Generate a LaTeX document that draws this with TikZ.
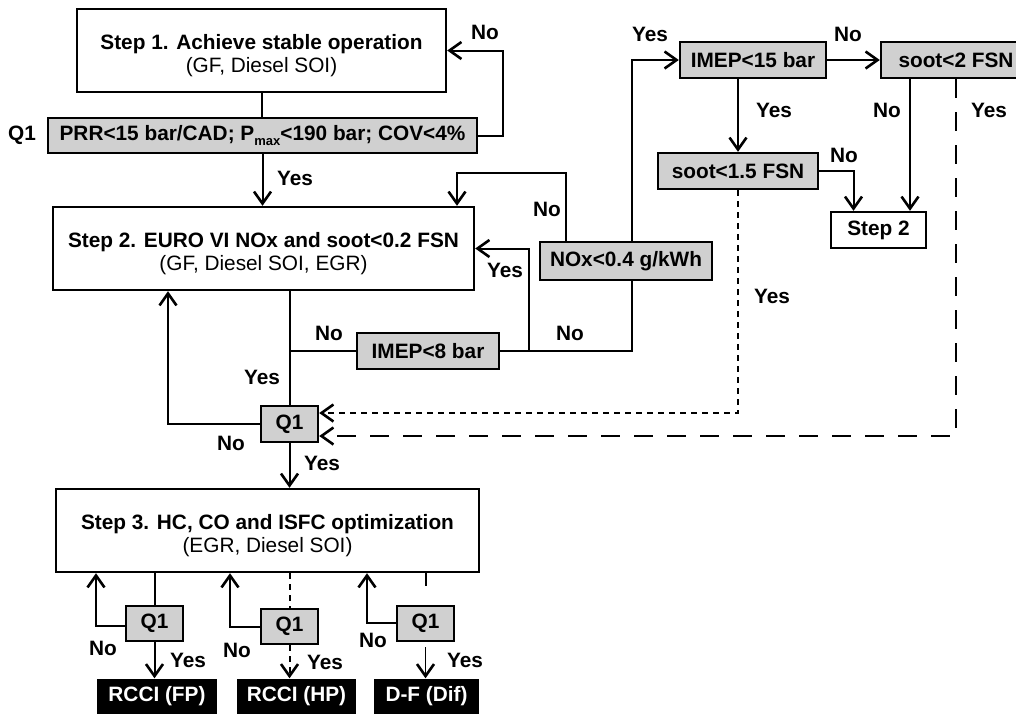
\documentclass[tikz,border=0pt]{standalone}
\usepackage{fontspec}
\setmainfont{Liberation Sans}
\usepackage{tikz}
\usetikzlibrary{arrows.meta, positioning}
\definecolor{qgray}{RGB}{208, 208, 208}
\newcommand{\toppad}{\rule{0pt}{25pt}}

\begin{document}
\begin{tikzpicture}[x=1pt, y=-1pt,
  every node/.style={font=\fontsize{20.8}{23}\selectfont\bfseries},
  stepbox/.style={draw, line width=2.4pt, align=center, inner sep=0pt},
  qbox/.style={draw, line width=2.4pt, fill=qgray, inner sep=0pt, minimum height=36pt},
  endbox/.style={fill=black, text=white, inner sep=0pt, minimum height=35pt},
  lbl/.style={inner sep=0pt},
  conn/.style={line width=2pt},
  arr/.style={line width=2pt, -{Straight Barb[length=12pt, width=17pt, line width=2.6pt]}},
  shortdash/.style={dash pattern=on 6pt off 5pt},
  longdash/.style={dash pattern=on 19pt off 14pt},
  sparse/.style={dash pattern=on 13pt off 30pt}]
  \useasboundingbox (0,0) rectangle (1016,713);

  % Step 1 and its check
  \node[stepbox, minimum width=369pt, minimum height=83pt] (step1) at (261.5, 50.5)
    {\toppad Step 1. Achieve stable operation\\\mdseries(GF, Diesel SOI)};
  \node[qbox, minimum width=429pt, minimum height=35pt] (q1top) at (262.5, 135.5)
    {PRR<15 bar/CAD; P\raisebox{-0.5ex}{\fontsize{13}{13}\selectfont max}<190 bar; COV<4\%};
  \node[lbl] (q1lbl) at (22, 135) {Q1};

  % Step 2 and the load checks
  \node[stepbox, minimum width=421pt, minimum height=83pt] (step2) at (263.5, 248.5)
    {\toppad Step 2. EURO VI NOx and soot<0.2 FSN\\\mdseries(GF, Diesel SOI, EGR)};
  \node[qbox, minimum width=142pt] (imep8) at (428, 351) {IMEP<8 bar};
  \node[qbox, minimum width=172pt, minimum height=38pt] (nox) at (626, 261) {NOx<0.4 g/kWh};
  \node[qbox, minimum width=146pt] (imep15) at (753, 60) {IMEP<15 bar};
  \node[qbox, minimum width=150pt] (soot2) at (956, 60) {soot<2 FSN};
  \node[qbox, minimum width=160pt] (soot15) at (738, 171) {soot<1.5 FSN};
  \node[stepbox, minimum width=95pt, minimum height=36pt] (step2b) at (878.5, 230) {Step 2};
  \node[qbox, minimum width=57pt] (q1mid) at (289.5, 424) {Q1};

  % Step 3 and the three modes
  \node[stepbox, minimum width=423pt, minimum height=83pt] (step3) at (267.5, 530.5)
    {\toppad Step 3. HC, CO and ISFC optimization\\\mdseries(EGR, Diesel SOI)};
  \node[qbox, minimum width=57pt, minimum height=35pt] (q1a) at (154.5, 623.5) {Q1};
  \node[qbox, minimum width=57pt, minimum height=35pt] (q1b) at (289.5, 626.5) {Q1};
  \node[qbox, minimum width=57pt, minimum height=35pt] (q1c) at (425.5, 623.5) {Q1};
  \node[endbox, minimum width=120pt] (fp) at (157, 696) {RCCI (FP)};
  \node[endbox, minimum width=119pt] (hp) at (296.5, 696) {RCCI (HP)};
  \node[endbox, minimum width=105pt] (dif) at (426.5, 696) {D-F (Dif)};

  % connectors, top part
  \draw[conn] (step1.south) -- (step1.south |- q1top.north);
  \draw[arr] (q1top.south) -- (q1top.south |- step2.north);
  \draw[arr] (q1top.east) -- ++(25,0) |- (step1.east);
  \draw[conn] (q1mid.north |- step2.south) -- (q1mid.north);
  \draw[conn] (q1mid.north |- imep8.west) -- (imep8.west);
  \coordinate (jyes) at ([xshift=29pt]imep8.east);
  \draw[conn] (imep8.east) -| ([xshift=6pt]nox.south);
  \draw[arr] (jyes) |- (step2.east);
  \draw[arr] ([xshift=-60pt]nox.north) -- ++(0,-68) -| ([xshift=193.5pt]step2.north);
  \draw[arr] ([xshift=6pt]nox.north) |- (imep15.west);
  \draw[arr] (imep15.east) -- (soot2.west);
  \draw[arr] (imep15.south -| soot15.north) -- (soot15.north);
  \draw[arr] (soot15.east) -| ([xshift=-25pt]step2b.north);
  \draw[arr] ([xshift=-46pt]soot2.south) -- ([xshift=-46pt]soot2.south |- step2b.north);
  \draw[arr, shortdash] (soot15.south) |- ([yshift=11pt]q1mid.east);
  \draw[arr, longdash] (soot2.south) |- ([yshift=-12pt]q1mid.east);
  \draw[arr] (q1mid.west) -| ([xshift=-95.5pt]step2.south);
  \draw[arr] (q1mid.south) -- (q1mid.south |- step3.north);

  % connectors, bottom part
  \draw[conn] (q1a.north |- step3.south) -- (q1a.north);
  \draw[arr] ([yshift=-2pt]q1a.west) -| ([xshift=-171.5pt]step3.south);
  \draw[arr] (q1a.south) -- (q1a.south |- fp.north);
  \draw[conn, shortdash] (q1b.north |- step3.south) -- (q1b.north);
  \draw[arr] (q1b.west) -| ([xshift=-37.5pt]step3.south);
  \draw[arr, shortdash] (q1b.south) -- (q1b.south |- hp.north);
  \draw[conn, sparse] (q1c.north |- step3.south) -- (q1c.north);
  \draw[arr] ([yshift=1pt]q1c.west) -| ([xshift=99.5pt]step3.south);
  \draw[arr, line width=1.4pt] ([yshift=-5pt]q1c.south) -- (q1c.south |- dif.north);

  % Yes / No labels
  \node[lbl] (n1) at (485, 32) {No};
  \node[lbl] (y1) at (295, 178) {Yes};
  \node[lbl] (n2) at (547, 209) {No};
  \node[lbl] (y2) at (505, 270) {Yes};
  \node[lbl] (n3) at (329, 333) {No};
  \node[lbl] (n4) at (570, 333) {No};
  \node[lbl] (y3) at (650, 34) {Yes};
  \node[lbl] (n5) at (848, 34) {No};
  \node[lbl] (y4) at (774, 110) {Yes};
  \node[lbl] (n6) at (887, 110) {No};
  \node[lbl] (y5) at (989, 110) {Yes};
  \node[lbl] (n7) at (844, 155) {No};
  \node[lbl] (y6) at (772, 296) {Yes};
  \node[lbl] (y7) at (262, 377) {Yes};
  \node[lbl] (n8) at (231, 443) {No};
  \node[lbl] (y8) at (322, 463) {Yes};
  \node[lbl] (n9) at (103, 648) {No};
  \node[lbl] (y9) at (188, 660) {Yes};
  \node[lbl] (n10) at (237, 650) {No};
  \node[lbl] (y10) at (325, 662) {Yes};
  \node[lbl] (n11) at (373, 640) {No};
  \node[lbl] (y11) at (465, 660) {Yes};
\end{tikzpicture}
\end{document}
